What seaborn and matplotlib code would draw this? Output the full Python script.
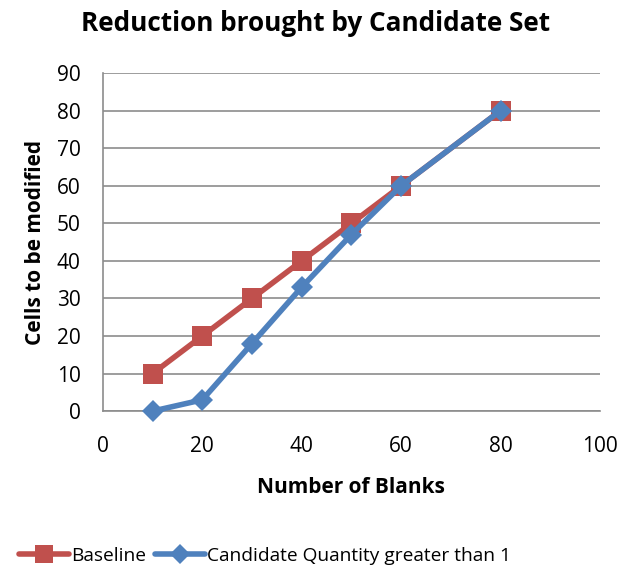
import matplotlib
matplotlib.use("Agg")
import matplotlib.pyplot as plt
import seaborn as sns
import pandas as pd

blanks = [10, 20, 30, 40, 50, 60, 80]
baseline = [10, 20, 30, 40, 50, 60, 80]
candidate = [0, 3, 18, 33, 47, 60, 80]
series_names = ["Baseline", "Candidate Quantity greater than 1"]

df = pd.concat([
    pd.DataFrame({"blanks": blanks, "cells": baseline, "series": series_names[0]}),
    pd.DataFrame({"blanks": blanks, "cells": candidate, "series": series_names[1]}),
])

sns.set_theme(style="white")
plt.rcParams["font.family"] = ["Open Sans", "DejaVu Sans"]
plt.rcParams["text.color"] = "black"
plt.rcParams["axes.labelcolor"] = "black"

fig = plt.figure(figsize=(6.27, 5.71), dpi=100)
ax = fig.add_axes([0.164, 0.280, 0.793, 0.592])

palette = {series_names[0]: "#C0504D", series_names[1]: "#4F81BD"}
markers = {series_names[0]: "s", series_names[1]: "D"}
sizes = {series_names[0]: 14, series_names[1]: 11}

for name in series_names:
    sub = df[df["series"] == name]
    sns.lineplot(data=sub, x="blanks", y="cells", ax=ax, color=palette[name],
                 marker=markers[name], markersize=sizes[name], linewidth=4,
                 markeredgewidth=0, label=name, clip_on=False,
                 zorder=4 if name == series_names[1] else 3)

ax.set_xlim(0, 100)
ax.set_ylim(0, 90)
ax.set_xticks(range(0, 101, 20))
ax.set_yticks(range(0, 91, 10))
ax.yaxis.grid(True, color="#8C8C8C", linewidth=1.2)
ax.xaxis.grid(False)
for s in ["top", "right"]:
    ax.spines[s].set_visible(False)
for s in ["left", "bottom"]:
    ax.spines[s].set_color("#8C8C8C")
    ax.spines[s].set_linewidth(1.2)
ax.tick_params(axis="both", which="major", direction="out", length=5, width=1.2,
               color="#8C8C8C", labelsize=15, labelcolor="black")
ax.tick_params(axis="y", pad=11)
ax.tick_params(axis="x", pad=13)

ax.set_xlabel("Number of Blanks", fontsize=15, fontweight="bold", labelpad=14)
ax.set_ylabel("Cells to be modified", fontsize=15, fontweight="bold", labelpad=8)
fig.suptitle("Reduction brought by Candidate Set", fontsize=18.8, fontweight="bold",
             x=0.504, y=0.982)

ax.legend(loc="center", ncol=2, frameon=False,
          fontsize=13.8, handlelength=2.6, handletextpad=0.1, columnspacing=0.5,
          markerscale=0.9)
leg = ax.get_legend()
leg.set_bbox_to_anchor((265 / 627, 1 - 556 / 571), transform=fig.transFigure)

fig.savefig("out.png", dpi=100)
